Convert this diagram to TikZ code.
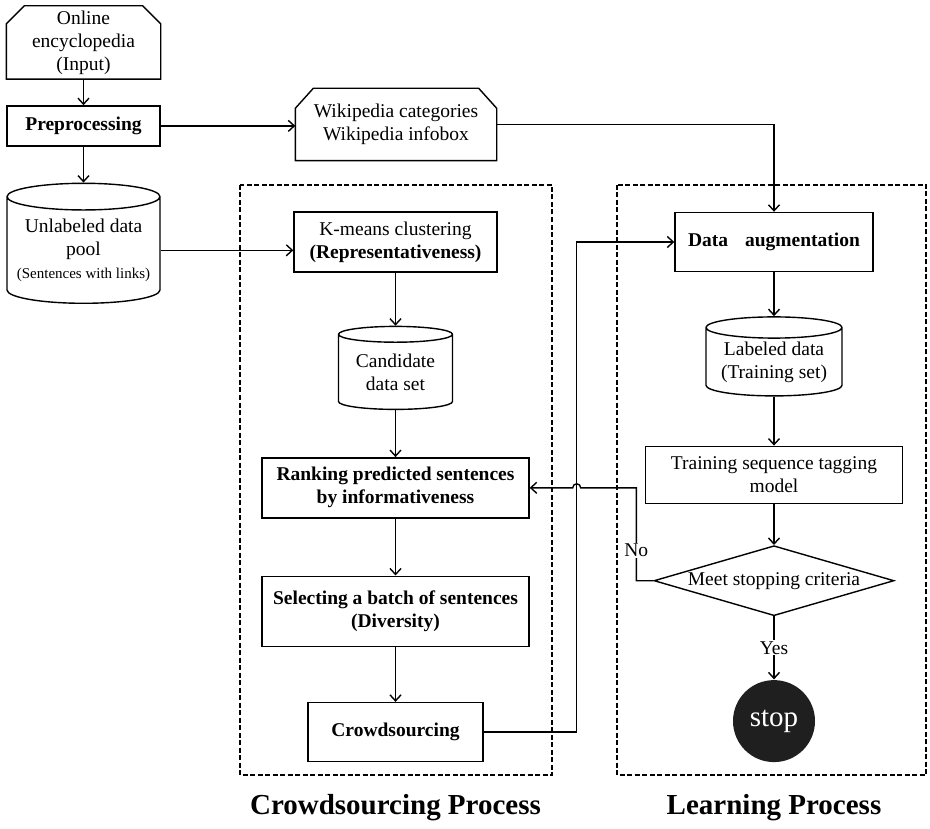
\documentclass[tikz,border=0pt]{standalone}
\usepackage{fontspec}
\setmainfont{Liberation Serif}
\usetikzlibrary{shapes.geometric}
\usetikzlibrary{arrows.meta}

\begin{document}
\begin{tikzpicture}[x=1pt,y=-1pt,line width=1.4pt,>={Straight Barb[length=6pt,width=11pt]},
  font=\fontsize{19.5}{23}\selectfont,
  bf/.style={font=\fontsize{19.5}{23}\selectfont\bfseries},
  box/.style={rectangle,draw,align=center,inner sep=0pt},
  store/.style={cylinder,shape border rotate=90,aspect=0.2,draw,align=center,inner sep=0pt},
  frame/.style={dash pattern=on 5pt off 2.5pt,line width=2.6pt},
  lbl/.style={fill=white,inner sep=1pt},
  title/.style={font=\fontsize{29}{34}\selectfont\bfseries}]
\useasboundingbox (0,0) rectangle (930,829);

% dashed process frames
\draw [frame] (240,185) rectangle (552,775);
\draw [frame] (617,185) rectangle (926,775);

% input side
\node [align=center,minimum width=153pt,minimum height=72pt,inner sep=0pt] (input) at (83.5,42.5) {Online\\encyclopedia\\(Input)};
\draw ([yshift=-18pt]input.north west) -- ([xshift=18pt]input.north west) -- ([xshift=-18pt]input.north east) -- ([yshift=-18pt]input.north east) -- (input.south east) -- (input.south west) -- cycle;
\node [box,bf,minimum width=153pt,minimum height=40pt,below=26pt,at=(input.south)] (prep) {Preprocessing};
\node [store,minimum width=153pt,minimum height=120pt,below=36pt,at=(prep.south)] (pool) {Unlabeled data\\pool\\{\fontsize{15}{18}\selectfont(Sentences with links)}};
\node [align=center,minimum width=200pt,minimum height=71pt,inner sep=0pt] (wiki) at (396,124.5) {Wikipedia categories\\Wikipedia infobox};
\draw ([yshift=-20pt]wiki.north west) -- ([xshift=18pt]wiki.north west) -- ([xshift=-18pt]wiki.north east) -- ([yshift=-20pt]wiki.north east) -- (wiki.south east) -- (wiki.south west) -- cycle;

% crowdsourcing process
\node [box,minimum width=203pt,minimum height=60pt] (kmeans) at (395.5,242) {K-means clustering\\\textbf{(Representativeness)}};
\node [store,minimum width=114pt,minimum height=83pt,below=53pt,at=(kmeans.south)] (cand) {Candidate\\data set};
\node [box,bf,minimum width=267pt,minimum height=60pt,below=47pt,at=(cand.south)] (rank) {Ranking predicted sentences\\by informativeness};
\node [box,bf,minimum width=267pt,minimum height=70pt,below=57pt,at=(rank.south)] (sel) {Selecting a batch of sentences\\(Diversity)};
\node [box,bf,minimum width=175pt,minimum height=59pt,below=55pt,at=(sel.south)] (crowd) {Crowdsourcing};

% learning process
\node [box,bf,minimum width=198pt,minimum height=59pt] (aug) at (774,242) {Data\hspace{0.87em}augmentation};
\node [store,minimum width=136pt,minimum height=79pt,below=44pt,at=(aug.south)] (lab) {Labeled data\\(Training set)};
\node [box,minimum width=257pt,minimum height=57pt,below=49pt,at=(lab.south)] (train) {Training sequence tagging\\model};
\node [diamond,draw,aspect=3.4,inner sep=0pt,minimum width=240pt,minimum height=70pt,below=41pt,at=(train.south)] (crit) {Meet stopping criteria};
\node [circle,fill=black!88,text=white,minimum size=82pt,inner sep=0pt,font=\fontsize{29}{34}\selectfont,below=63pt,at=(crit.south)] (stop) {stop};

\node [title] (crowdtitle) at (395.5,808) {Crowdsourcing Process};
\node [title] (learntitle) at (774,808) {Learning Process};

\coordinate (riser) at ([xshift=93pt]crowd.east);
\coordinate (noturn) at ([xshift=-17pt]crit.west);
\coordinate (hop) at (riser |- rank.east);

\draw [->] (input) -- (prep);
\draw [->] (prep) -- (pool);
\draw [->] (prep.east) -- (prep.east -| wiki.west);
\draw [->] (wiki.east) -| (aug.north);
\draw [->] (pool.east) -- (pool.east -| kmeans.west);
\draw [->] (kmeans) -- (cand);
\draw [->] (cand) -- (rank);
\draw [->] (rank) -- (sel);
\draw [->] (sel) -- (crowd);
\draw [->] (crowd.east) -- (riser) |- (aug.west);
\draw [->] (aug) -- (lab);
\draw [->] (lab) -- (train);
\draw [->] (train) -- (crit);
\draw [->] (crit) -- node[lbl]{Yes} (stop);
\draw [->] (crit.west) -- (noturn) -- node[lbl,pos=0.33]{No} (noturn |- rank.east) -- ([xshift=4pt]hop) arc[start angle=0,end angle=180,radius=4pt] -- (rank.east);
\end{tikzpicture}
\end{document}
